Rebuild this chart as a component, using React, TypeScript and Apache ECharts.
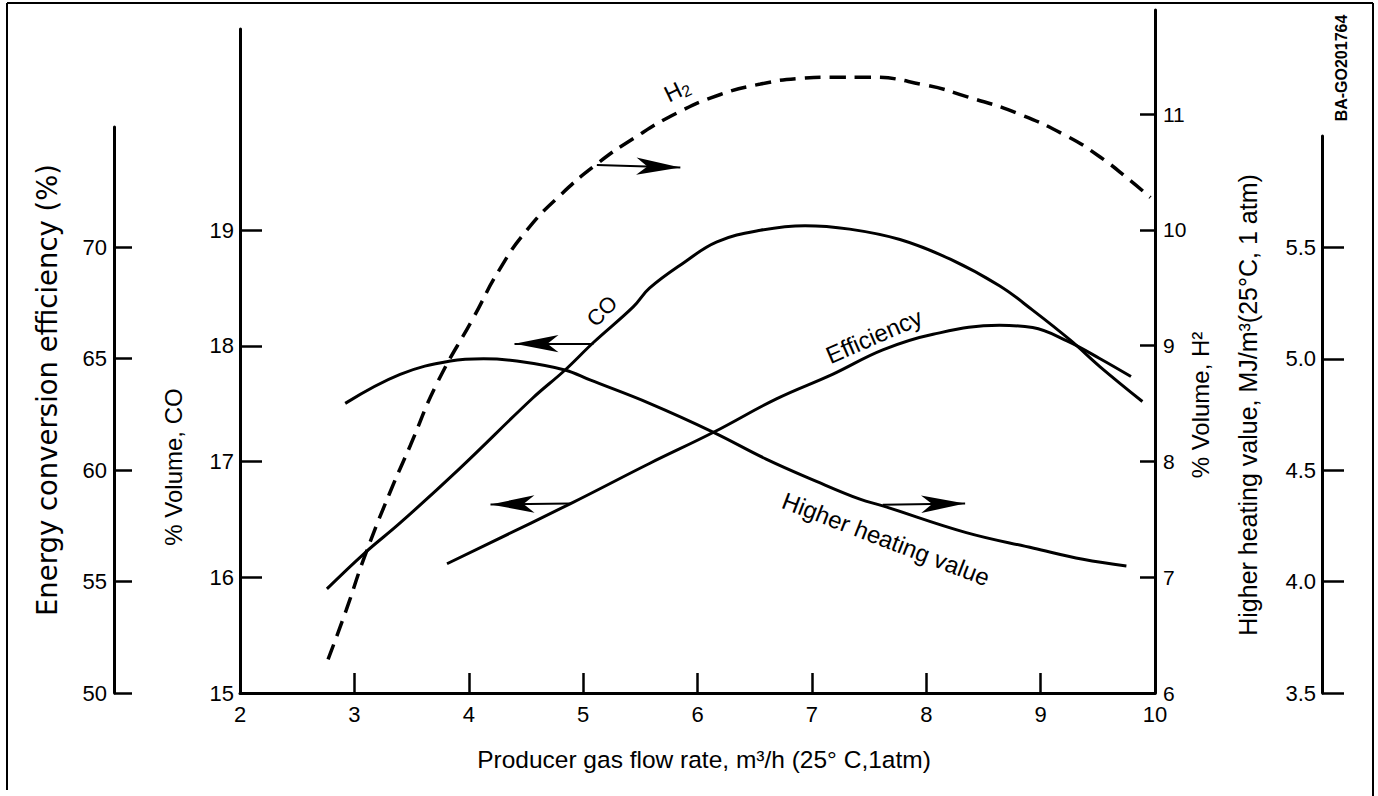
import React, { useEffect, useRef } from 'react';
import * as echarts from 'echarts';

// ---- tick labels ----
const flowLabels = [2, 3, 4, 5, 6, 7, 8, 9, 10];
const flowTicks = [3, 4, 5, 6, 7, 8, 9];
const coLabels = [15, 16, 17, 18, 19];
const coTicks = [16, 17, 18, 19];
const h2Labels = [6, 7, 8, 9, 10, 11];
const h2Ticks = [7, 8, 9, 10, 11];
const effLabels = [50, 55, 60, 65, 70];
const hhvLabels = [3.5, 4.0, 4.5, 5.0, 5.5];

// ---- series (flow rate, m3/h) ----
const coFlow = [2.76, 3.09, 3.4, 3.92, 4.56, 4.84, 5.09, 5.44, 5.58, 5.88, 6.17, 6.55, 6.94, 7.33, 7.77, 8.21, 8.64, 8.93, 9.26, 9.52, 9.89];
const coVolume = [15.9, 16.21, 16.47, 16.94, 17.55, 17.79, 18.03, 18.34, 18.5, 18.72, 18.9, 19.0, 19.04, 19.01, 18.92, 18.75, 18.52, 18.31, 18.05, 17.82, 17.52];

const h2Flow = [2.77, 2.93, 3.09, 3.31, 3.49, 3.72, 4.04, 4.27, 4.51, 4.8, 5.12, 5.44, 5.82, 6.2, 6.55, 6.9, 7.18, 7.48, 8.0, 8.36, 8.79, 9.23, 9.52, 9.78, 9.96];
const h2Volume = [6.29, 6.72, 7.18, 7.73, 8.14, 8.67, 9.24, 9.66, 10.0, 10.3, 10.57, 10.79, 11.01, 11.17, 11.26, 11.31, 11.32, 11.32, 11.25, 11.15, 11.01, 10.81, 10.63, 10.43, 10.28];

const effFlow = [3.81, 4.89, 5.58, 6.14, 6.69, 7.18, 7.62, 8.06, 8.64, 8.93, 9.23, 9.52, 9.79];
const effPercent = [55.8, 58.5, 60.3, 61.7, 63.2, 64.3, 65.4, 66.1, 66.5, 66.4, 65.8, 65.0, 64.2];

const hhvFlow = [2.92, 3.4, 3.84, 4.13, 4.42, 4.84, 5.06, 5.58, 6.14, 6.6, 7.04, 7.42, 7.62, 8.35, 8.94, 9.37, 9.75];
const hhvValue = [4.8, 4.93, 4.99, 5.0, 4.99, 4.95, 4.905, 4.8, 4.67, 4.55, 4.45, 4.37, 4.34, 4.22, 4.15, 4.1, 4.07];

// ---- arrow annotations (data coordinates: start on curve, tip) ----
const coArrow = [[5.09, 18.02], [4.4, 18.02]];
const h2Arrow = [[5.12, 10.56], [5.85, 10.54]];
const effArrow = [[4.89, 58.5], [4.19, 58.46]];
const hhvArrow = [[7.62, 4.345], [8.34, 4.35]];

const FONT = '"Liberation Sans", Arial, Helvetica, sans-serif';
const BLACK = '#000';

const zip = (xs: number[], ys: number[]) => xs.map((x, i) => [x, ys[i]]);

const arrowMark = (pts: number[][]) => ({
  silent: true,
  animation: false,
  label: { show: false },
  emphasis: { disabled: true },
  lineStyle: { color: BLACK, width: 2, type: 'solid' },
  data: [
    [
      { coord: pts[0], symbol: 'none' },
      { coord: pts[1], symbol: 'arrow', symbolSize: [13, 44] },
    ],
  ],
});

const lineStyleAxis = { color: BLACK, width: 3 };
const tickStyle = { color: BLACK, width: 2.5 };
const labelBase = { color: BLACK, fontSize: 22, fontFamily: FONT };

const gridBox = { left: 240, right: 1378 - 1155, bottom: 796 - 693, outerBoundsMode: 'none' };

const text = (
  t: string,
  x: number,
  y: number,
  rotation: number,
  fontSize: number,
  extra: any = {}
) => ({
  type: 'text',
  x,
  y,
  rotation,
  silent: true,
  style: {
    text: t,
    fill: BLACK,
    fontSize,
    fontFamily: FONT,
    align: 'center',
    verticalAlign: 'middle',
    textAlign: 'center',
    textVerticalAlign: 'middle',
    ...extra,
  },
});

const frameLine = (x1: number, y1: number, x2: number, y2: number) => ({
  type: 'line',
  silent: true,
  shape: { x1, y1, x2, y2 },
  style: { stroke: BLACK, lineWidth: 2 },
});

export default function App() {
  const ref = useRef<HTMLDivElement>(null);

  useEffect(() => {
    if (!ref.current) return;
    const chart = echarts.init(ref.current, null, { renderer: 'svg' });

    const hiddenX = (i: number) => ({ gridIndex: i, type: 'value', min: 2, max: 10, show: false });

    const option: any = {
      animation: false,
      backgroundColor: '#fff',
      textStyle: { fontFamily: FONT, color: BLACK },
      grid: [
        { ...gridBox, top: 29 },
        { ...gridBox, top: 10 },
        { ...gridBox, top: 127 },
        { ...gridBox, top: 136 },
      ],
      xAxis: [
        {
          gridIndex: 0,
          type: 'value',
          min: 2,
          max: 10,
          axisLine: { show: true, onZero: false, lineStyle: lineStyleAxis },
          axisTick: { show: true, inside: true, length: 20, customValues: flowTicks, lineStyle: tickStyle },
          axisLabel: { ...labelBase, fontSize: 22, margin: 10, customValues: flowLabels },
          splitLine: { show: false },
          name: 'Producer gas flow rate, m³/h (25° C,1atm)',
          nameLocation: 'middle',
          nameGap: 54,
          nameTextStyle: { color: BLACK, fontSize: 24.5, fontFamily: FONT, padding: [0, 0, 0, 13] },
        },
        hiddenX(1),
        hiddenX(2),
        hiddenX(3),
      ],
      yAxis: [
        {
          gridIndex: 0,
          type: 'value',
          position: 'left',
          min: 15,
          max: 20.74,
          axisLine: { show: true, onZero: false, lineStyle: lineStyleAxis },
          axisTick: { show: true, inside: true, length: 22, customValues: coTicks, lineStyle: tickStyle },
          axisLabel: { ...labelBase, margin: 6, customValues: coLabels },
          splitLine: { show: false },
        },
        {
          gridIndex: 1,
          type: 'value',
          position: 'right',
          min: 6,
          max: 11.9,
          axisLine: { show: true, onZero: false, lineStyle: lineStyleAxis },
          axisTick: { show: true, inside: true, length: 15, customValues: h2Ticks, lineStyle: tickStyle },
          axisLabel: { ...labelBase, fontSize: 21, margin: 8, customValues: h2Labels },
          splitLine: { show: false },
        },
        {
          gridIndex: 2,
          type: 'value',
          position: 'left',
          offset: 126,
          min: 50,
          max: 75.4,
          axisLine: { show: true, onZero: false, lineStyle: lineStyleAxis },
          axisTick: { show: true, inside: true, length: 18, customValues: effLabels, lineStyle: tickStyle },
          axisLabel: { ...labelBase, margin: 7, customValues: effLabels },
          splitLine: { show: false },
        },
        {
          gridIndex: 3,
          type: 'value',
          position: 'right',
          offset: 167,
          min: 3.5,
          max: 6.0,
          axisLine: { show: true, onZero: false, lineStyle: lineStyleAxis },
          axisTick: { show: true, inside: false, length: 22, customValues: hhvLabels, lineStyle: tickStyle },
          axisLabel: {
            ...labelBase,
            inside: true,
            margin: 6,
            customValues: hhvLabels,
            formatter: (v: number) => v.toFixed(1),
          },
          splitLine: { show: false },
        },
      ],
      series: [
        {
          type: 'line',
          name: 'CO',
          xAxisIndex: 0,
          yAxisIndex: 0,
          data: zip(coFlow, coVolume),
          smooth: 0.4,
          symbol: 'none',
          lineStyle: { color: BLACK, width: 3 },
          markLine: arrowMark(coArrow),
        },
        {
          type: 'line',
          name: 'H2',
          xAxisIndex: 1,
          yAxisIndex: 1,
          data: zip(h2Flow, h2Volume),
          smooth: 0.5,
          symbol: 'none',
          lineStyle: { color: BLACK, width: 3.5, type: [16, 9] },
          markLine: arrowMark(h2Arrow),
        },
        {
          type: 'line',
          name: 'Efficiency',
          xAxisIndex: 2,
          yAxisIndex: 2,
          data: zip(effFlow, effPercent),
          smooth: 0.4,
          symbol: 'none',
          lineStyle: { color: BLACK, width: 3 },
          markLine: arrowMark(effArrow),
        },
        {
          type: 'line',
          name: 'Higher heating value',
          xAxisIndex: 3,
          yAxisIndex: 3,
          data: zip(hhvFlow, hhvValue),
          smooth: 0.4,
          symbol: 'none',
          lineStyle: { color: BLACK, width: 3 },
          markLine: arrowMark(hhvArrow),
        },
      ],
      graphic: [
        frameLine(7, 3, 1373, 3),
        frameLine(7, 3, 7, 790),
        frameLine(1373, 3, 1373, 796),
        text('Energy conversion efficiency (%)', 47, 390, Math.PI / 2, 27.5, { fontFamily: '"DejaVu Sans", sans-serif' }),
        text('% Volume, CO', 173, 467, Math.PI / 2, 24),
        text('% Volume, H²', 1200, 405, Math.PI / 2, 24),
        text('Higher heating value, MJ/m³(25°C, 1 atm)', 1248, 405, Math.PI / 2, 25),
        text('BA-GO201764', 1341, 68, Math.PI / 2, 16, { fontWeight: 'bold' }),
        text('{h|H}{s|2}', 677, 90, 0.45, 22, {
          rich: {
            h: { fontSize: 23, fontFamily: FONT, fill: BLACK },
            s: { fontSize: 16, fontFamily: FONT, fill: BLACK, verticalAlign: 'bottom', padding: [10, 0, 0, 0] },
          },
        }),
        text('CO', 602, 311, 0.785, 22),
        text('Efficiency', 874, 336, 0.41, 24),
        text('Higher heating value', 886, 539, -0.367, 24),
      ],
    };

    chart.setOption(option);
    return () => chart.dispose();
  }, []);

  return (
    <div
      ref={ref}
      style={{ position: 'fixed', left: 0, top: 0, width: 1378, height: 796, background: '#fff' }}
    />
  );
}
